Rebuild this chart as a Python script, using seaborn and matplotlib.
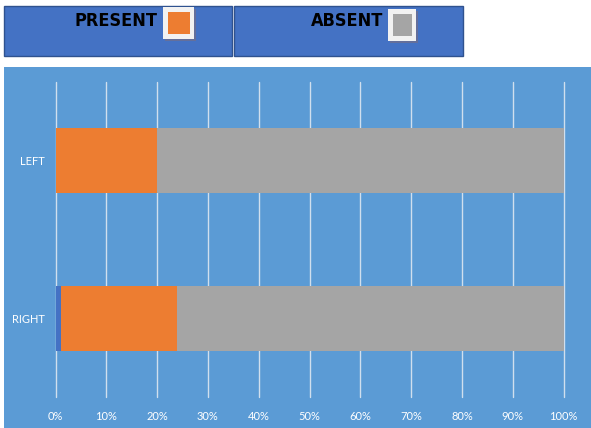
import matplotlib
matplotlib.use("Agg")
import matplotlib.pyplot as plt
from matplotlib.patches import Rectangle
import seaborn as sns
import numpy as np
import pandas as pd

# ---- data ----
categories = ["LEFT", "RIGHT"]
other = [0, 1]        # small dark-blue segment
present = [20, 23]
absent = [80, 76]
tick_values = [0, 10, 20, 30, 40, 50, 60, 70, 80, 90, 100]
tick_labels = ["0%", "10%", "20%", "30%", "40%", "50%", "60%", "70%", "80%", "90%", "100%"]
legend_labels = ["PRESENT", "ABSENT"]

C_BG = "#5B9BD5"
C_OTHER = "#4472C4"
C_PRESENT = "#ED7D31"
C_ABSENT = "#A5A5A5"
C_HEADER = "#4472C4"

sns.set_theme(style="white")
plt.rcParams["font.family"] = ["Lato", "DejaVu Sans"]

W, H = 591, 428
fig = plt.figure(figsize=(W / 100, H / 100), dpi=100)
fig.patch.set_facecolor("white")

def fx(px):
    return px / W

def fy(py):
    return 1 - py / H

# chart background panel
fig.patches.append(Rectangle((fx(4), 0), fx(591) - fx(4), fy(67), transform=fig.transFigure,
                             facecolor=C_BG, edgecolor="none", zorder=-5))

ax = fig.add_axes([fx(55.5), fy(397), fx(563.5) - fx(55.5), fy(82) - fy(397)])
ax.set_facecolor("none")
ax.set_zorder(10)

df = pd.DataFrame({"cat": categories,
                   "other": other, "present": present, "absent": absent})
df["c1"] = df["other"]
df["c2"] = df["other"] + df["present"]
df["c3"] = df["other"] + df["present"] + df["absent"]

bw = 0.41
sns.barplot(data=df, x="c3", y="cat", orient="h", color=C_ABSENT, width=bw,
            saturation=1, ax=ax, zorder=3)
sns.barplot(data=df, x="c2", y="cat", orient="h", color=C_PRESENT, width=bw,
            saturation=1, ax=ax, zorder=4)
sns.barplot(data=df, x="c1", y="cat", orient="h", color=C_OTHER, width=bw,
            saturation=1, ax=ax, zorder=5)
for p in ax.patches:
    p.set_edgecolor("none")
    p.set_linewidth(0)

ax.set_xlim(0, 100)
ax.set_ylim(1.5, -0.5)
ax.set_xticks(tick_values)
ax.set_xticklabels(tick_labels)
ax.set_xlabel("")
ax.set_ylabel("")
for s in ax.spines.values():
    s.set_visible(False)
ax.grid(axis="x", color="#D0DFEE", linewidth=1.0, zorder=1)
ax.set_axisbelow(True)
for gl in ax.xaxis.get_gridlines():
    gl.set_clip_on(False)
ax.tick_params(axis="x", colors="white", labelsize=8, pad=10, length=0)
ax.tick_params(axis="y", colors="white", labelsize=8, pad=8, length=0)

# header legend boxes
boxes = [(4, 232), (234, 463)]
text_right = [158, 383]
sq = [(163, 7, 194, 39, C_PRESENT), (388, 9, 416, 41, C_ABSENT)]
for (x0, x1), tr, label, (sx0, sy0, sx1, sy1, col) in zip(boxes, text_right, legend_labels, sq):
    fig.patches.append(Rectangle((fx(x0), fy(56)), fx(x1) - fx(x0), fy(6) - fy(56),
                                 transform=fig.transFigure, facecolor=C_HEADER,
                                 edgecolor="#2F528F", linewidth=1.0, zorder=1))
    fig.text(fx(tr), fy(21), label, ha="right", va="center", fontsize=13,
             fontweight="bold", fontstretch="condensed", color="black",
             family=["DejaVu Sans"])
    # white frame with shadow
    fig.patches.append(Rectangle((fx(sx0 + 1.5), fy(sy1 + 1.5)), fx(sx1) - fx(sx0), fy(sy0) - fy(sy1),
                                 transform=fig.transFigure, facecolor="#7A6E80",
                                 edgecolor="none", zorder=2, alpha=0.6))
    fig.patches.append(Rectangle((fx(sx0), fy(sy1)), fx(sx1) - fx(sx0), fy(sy0) - fy(sy1),
                                 transform=fig.transFigure, facecolor="#F2F2F2",
                                 edgecolor="none", zorder=3))
    fig.patches.append(Rectangle((fx(sx0 + 5), fy(sy1 - 5)), fx(sx1 - 4) - fx(sx0 + 5),
                                 fy(sy0 + 5) - fy(sy1 - 5),
                                 transform=fig.transFigure, facecolor=col,
                                 edgecolor="none", zorder=4))

fig.savefig("out.png", dpi=100)
